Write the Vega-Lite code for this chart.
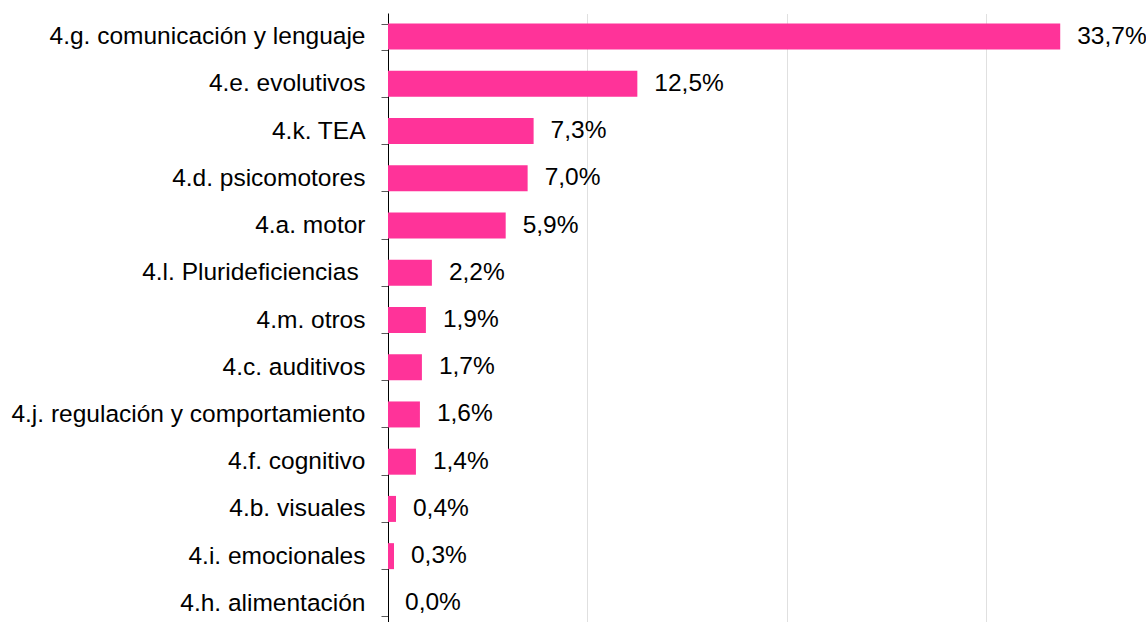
{
  "$schema": "https://vega.github.io/schema/vega-lite/v6.json",
  "autosize": {"type": "none"},
  "padding": {"left": 388, "top": 13, "right": 0, "bottom": 0},
  "width": 758,
  "height": 614,
  "background": "white",
  "config": {
    "locale": {"number": {"decimal": ",", "thousands": ".", "grouping": [3], "currency": ["", " €"]}},
    "font": "Liberation Sans",
    "view": {"stroke": null}
  },
  "data": {
    "values": [
      {"cat": "4.g. comunicación y lenguaje", "v": 0.337},
      {"cat": "4.e. evolutivos", "v": 0.125},
      {"cat": "4.k. TEA", "v": 0.073},
      {"cat": "4.d. psicomotores", "v": 0.070},
      {"cat": "4.a. motor", "v": 0.059},
      {"cat": "4.l. Plurideficiencias\u00a0\u200b", "v": 0.022},
      {"cat": "4.m. otros", "v": 0.019},
      {"cat": "4.c. auditivos", "v": 0.017},
      {"cat": "4.j. regulación y comportamiento", "v": 0.016},
      {"cat": "4.f. cognitivo", "v": 0.014},
      {"cat": "4.b. visuales", "v": 0.004},
      {"cat": "4.i. emocionales", "v": 0.003},
      {"cat": "4.h. alimentación", "v": 0.0}
    ]
  },
  "encoding": {
    "y": {
      "field": "cat", "type": "nominal", "sort": null,
      "scale": {"paddingInner": 0.45, "paddingOuter": 0.225},
      "axis": {
        "title": null, "tickBand": "extent", "tickSize": 7, "tickColor": "#595959",
        "domainColor": "#000000", "labelFontSize": 24.5, "labelColor": "#000000",
        "labelPadding": 16, "labelFont": "Liberation Sans", "labelLimit": 500
      }
    },
    "x": {
      "field": "v", "type": "quantitative",
      "scale": {"domain": [0, 0.38], "nice": false},
      "axis": {
        "title": null, "labels": false, "ticks": false, "domain": false,
        "values": [0.1, 0.2, 0.3], "grid": true, "gridColor": "#C0C0C0",
        "gridDash": [1, 1], "gridWidth": 1
      }
    }
  },
  "layer": [
    {"mark": {"type": "bar", "color": "#FF3399", "size": 26}},
    {
      "mark": {"type": "text", "align": "left", "dx": 17, "fontSize": 24.5, "color": "#000000", "font": "Liberation Sans"},
      "encoding": {"text": {"field": "v", "type": "quantitative", "format": ".1%"}}
    }
  ]
}
